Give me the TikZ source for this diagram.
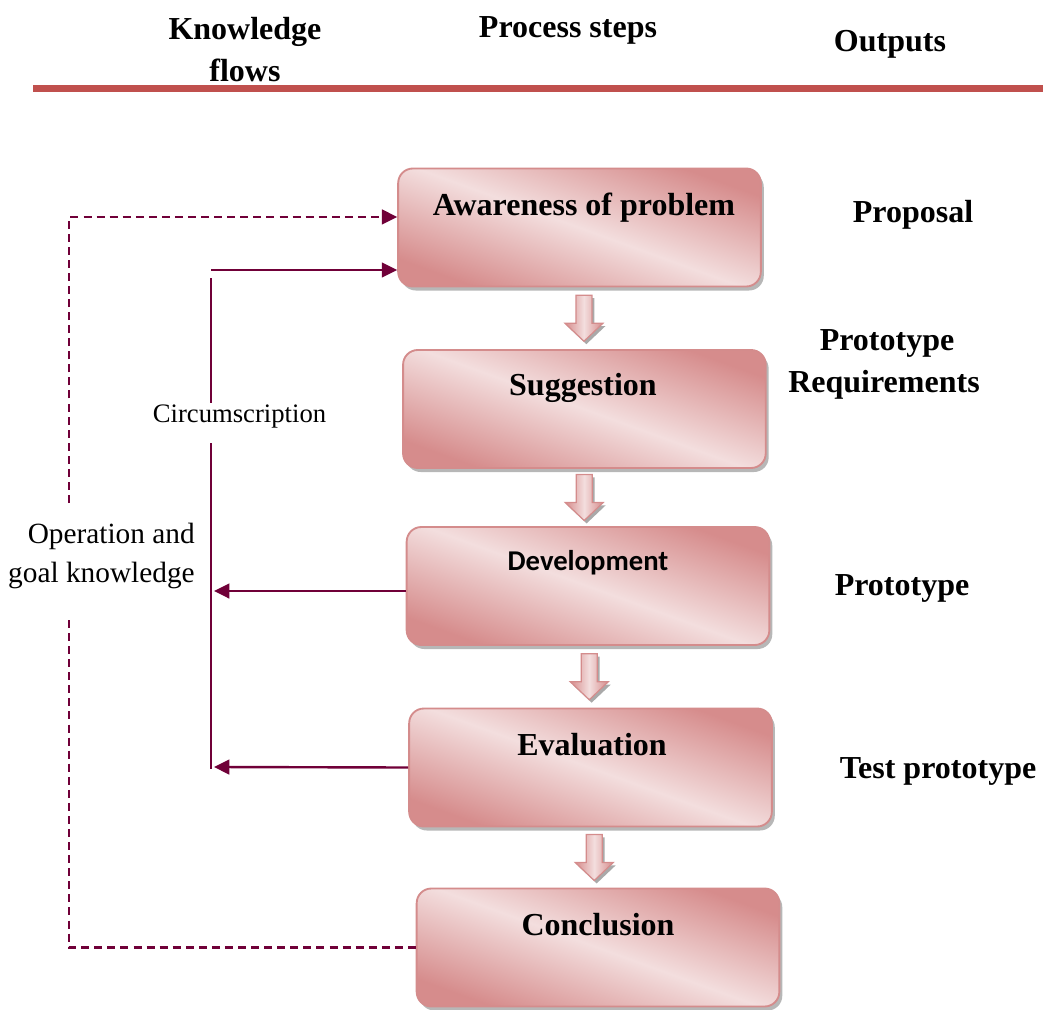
\documentclass[tikz,border=0pt]{standalone}
\usepackage{fontspec}
\setmainfont{Liberation Serif}
\newfontfamily\calibrifont{Carlito}
\usetikzlibrary{arrows.meta,shadows,calc}

\definecolor{flowline}{RGB}{112,0,56}
\definecolor{rulered}{RGB}{192,80,77}
\definecolor{boxdark}{RGB}{214,140,140}
\definecolor{boxlight}{RGB}{243,222,222}
\definecolor{boxedge}{RGB}{212,140,140}

\tikzset{
  stepbox/.style={draw=boxedge, line width=1.4pt, rounded corners=11pt,
    minimum width=272pt, minimum height=88.5pt, inner sep=0pt,
    top color=boxdark, bottom color=boxdark, middle color=boxlight, shading angle=-20,
    drop shadow={shadow xshift=2.2pt, shadow yshift=-3pt, fill=black!40, opacity=0.7}},
  steptext/.style={font=\bfseries\fontsize{24}{28}\selectfont, inner sep=0pt},
  headtext/.style={font=\bfseries\fontsize{24}{28}\selectfont, inner sep=0pt},
  outtext/.style={font=\bfseries\fontsize{24}{28}\selectfont, inner sep=0pt},
  sidetext/.style={font=\fontsize{22}{26}\selectfont, inner sep=0pt},
  circtext/.style={font=\fontsize{20}{24}\selectfont, inner sep=0pt},
  flow/.style={draw=flowline, line width=1.8pt},
  kdash/.style={draw=flowline, line width=1.8pt, dash pattern=on 6pt off 3.8pt},
  tip/.style={-{Triangle[length=11.5pt,width=11pt]}},
  blockarrow/.style={draw=boxedge, line width=0.9pt,
    left color=boxdark, right color=boxdark, middle color=boxlight,
    drop shadow={shadow xshift=1.8pt, shadow yshift=-2.2pt, fill=black!45, opacity=0.75}},
  downblock/.pic={
    \path[blockarrow] (-8,-23) -- (8,-23) -- (8,5) -- (19,5) -- (0,23)
      -- (-19,5) -- (-8,5) -- cycle;
  }
}

\begin{document}
\begin{tikzpicture}[x=0.75pt,y=-0.75pt]
\useasboundingbox (0,0) rectangle (1043,1010);

% column headings and rule
\node[headtext, anchor=base] (hk1) at (245,39) {Knowledge};
\node[headtext, anchor=base] (hk2) at (245,81) {flows};
\node[headtext, anchor=base] (hp) at (568,37) {Process steps};
\node[headtext, anchor=base] (ho) at (890,51) {Outputs};
\draw[rulered, line width=5pt] (33,88.5) -- (1043,88.5);

% process steps
\node[stepbox] (b1) at (579.5,227.5) {};
\node[stepbox] (b2) at (584.4,409) {};
\node[stepbox] (b3) at (588,586) {};
\node[stepbox] (b4) at (590.5,767.5) {};
\node[stepbox] (b5) at (598,947.5) {};

\node[steptext, anchor=base] (t1) at (584,215) {Awareness of problem};
\node[steptext, anchor=base] (t2) at (583,395) {Suggestion};
\node[inner sep=0pt, anchor=base, font=\calibrifont\bfseries\fontsize{21.5}{26}\selectfont]
  (t3) at (588,570) {Development};
\node[steptext, anchor=base] (t4) at (592,755) {Evaluation};
\node[steptext, anchor=base] (t5) at (598,935) {Conclusion};

% block arrows between steps
\pic at ($(b1.south)!0.5!(b2.north)+(2,0)$) {downblock};
\pic at ($(b2.south)!0.5!(b3.north)+(-2,0)$) {downblock};
\pic at ($(b3.south)!0.5!(b4.north)$) {downblock};
\pic at ($(b4.south)!0.5!(b5.north)$) {downblock};

% outputs
\node[outtext, anchor=base] (o1) at (913,222) {Proposal};
\node[outtext, anchor=base] (o2a) at (887,350) {Prototype};
\node[outtext, anchor=base] (o2b) at (884,392) {Requirements};
\node[outtext, anchor=base] (o3) at (902,595) {Prototype};
\node[outtext, anchor=base] (o4) at (938,778) {Test prototype};

% knowledge flow labels
\node[circtext, anchor=base] (circ) at (239.5,422) {Circumscription};
\node[sidetext, anchor=base east] (ok1) at (195,543) {Operation and};
\node[sidetext, anchor=base east] (ok2) at (195,582) {goal knowledge};

% free ends of the knowledge flow lines
\coordinate (dq1) at (69,503);
\coordinate (dq2) at (69,620);
\coordinate (cs0) at (211,270);
\coordinate (cs1) at (211,278);
\coordinate (cs2) at (211,403);
\coordinate (cs3) at (211,443);
\coordinate (cs4) at (211,769);
\coordinate (h3) at (214,591);
\coordinate (h4) at (214,767);

% operation and goal knowledge (dashed loop)
\draw[kdash, tip] (dq1) |- ([yshift=7.9pt]b1.west);
\draw[kdash] (dq2) |- (b5.west);

% circumscription
\draw[flow, tip] (cs0) -- (b1.west |- cs0);
\draw[flow] (cs1) -- (cs2);
\draw[flow] (cs3) -- (cs4);
\draw[flow, tip] ([yshift=-3.75pt]b3.west) -- (h3);
\draw[flow, tip] (b4.west) -- (h4);
\end{tikzpicture}
\end{document}
